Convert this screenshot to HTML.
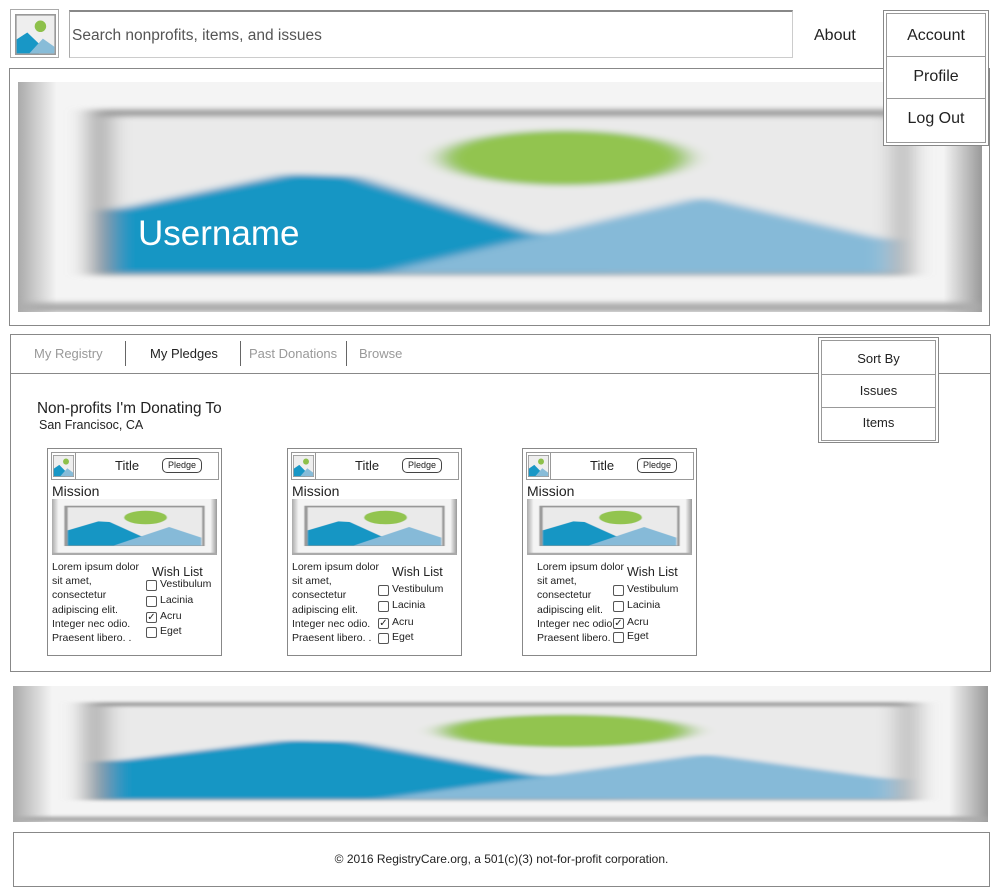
<!DOCTYPE html>
<html><head><meta charset="utf-8"><style>
body{margin:0;width:998px;height:894px;background:#fff;font-family:"Liberation Sans",sans-serif;position:relative;overflow:hidden;color:#222}
.a{position:absolute}
.box{position:absolute;border:1px solid #888;box-sizing:border-box}
.dd{position:absolute;border:1px solid #888;box-sizing:border-box;padding:2px;background:#fff;z-index:5}
.dd div{border:1px solid #999;box-sizing:border-box;text-align:center;background:#fff}
.t{position:absolute;white-space:nowrap}
.cb{position:absolute;width:11px;height:11px;border:1px solid #555;border-radius:2px;box-sizing:border-box;background:#fff;font-size:10px;line-height:9px;text-align:center}
</style></head><body>
<div class="box" style="left:10px;top:9px;width:49px;height:49px;border-color:#aaa;padding:4px"><div class="img" data-w="41" data-h="41" data-blur="0" data-icon="1"></div></div>
<div class="box" style="left:69px;top:10px;width:724px;height:48px;border-color:#ccc;border-top:2px solid #888;border-left:1px solid #aaa"><span class="t" style="left:2px;top:15px;font-size:15.5px;color:#555">Search nonprofits, items, and issues</span></div>
<span class="t" style="left:814px;top:27px;font-size:16px">About</span>
<div class="box" style="left:9px;top:68px;width:981px;height:258px"></div>
<div class="a img" data-w="964" data-h="230" data-blur="4" style="left:18px;top:82px"></div>
<span class="t" style="left:138px;top:214px;font-size:35px;color:#fff">Username</span>
<div class="dd" style="left:883px;top:10px;width:106px;height:136px">
<div style="height:44px;line-height:44px;font-size:16px">Account</div>
<div style="height:42px;line-height:40px;font-size:16px;border-top:none">Profile</div>
<div style="height:44px;line-height:40px;font-size:16px;border-top:none">Log Out</div>
</div>

<div class="box" style="left:10px;top:334px;width:981px;height:338px"></div>
<div class="a" style="left:11px;top:373px;width:979px;height:1px;background:#888"></div>
<span class="t" style="left:34px;top:346px;font-size:13px;color:#999">My Registry</span>
<div class="a" style="left:125px;top:341px;width:1px;height:25px;background:#666"></div>
<span class="t" style="left:150px;top:346px;font-size:13px;color:#222">My Pledges</span>
<div class="a" style="left:240px;top:341px;width:1px;height:25px;background:#666"></div>
<span class="t" style="left:249px;top:346px;font-size:13px;color:#999">Past Donations</span>
<div class="a" style="left:346px;top:341px;width:1px;height:25px;background:#666"></div>
<span class="t" style="left:359px;top:346px;font-size:13px;color:#999">Browse</span>
<div class="dd" style="left:818px;top:337px;width:121px;height:106px">
<div style="height:35px;line-height:35px;font-size:13px">Sort By</div>
<div style="height:33px;line-height:31px;font-size:13px;border-top:none">Issues</div>
<div style="height:33px;line-height:30px;font-size:13px;border-top:none">Items</div>
</div>
<span class="t" style="left:37px;top:400px;font-size:15.3px">Non-profits I'm Donating To</span>
<span class="t" style="left:39px;top:418px;font-size:12.5px">San Francisoc, CA</span>
<div id="cards"></div>

<div class="a img" data-w="975" data-h="136" data-blur="4" style="left:13px;top:686px"></div>
<div class="box" style="left:13px;top:832px;width:977px;height:55px;text-align:center;font-size:12px;line-height:53px">© 2016 RegistryCare.org, a 501(c)(3) not-for-profit corporation.</div>

<script>
const cardX=[47,287,522];
const wishDX=[104,104,104];
const cbY=[[580,596,612,627],[585,601,618,633],[585,601,618,632]];
const items=["Vestibulum","Lacinia","Acru","Eget"];
const checked=[false,false,true,false];
const cont=document.getElementById('cards');
cardX.forEach((x,i)=>{
 const c=document.createElement('div');
 c.className='box';
 
 
 c.style.cssText=`left:${x}px;top:448px;width:175px;height:208px`;
 cont.appendChild(c);
 let h=`<div class="box" style="left:3px;top:3px;width:168px;height:28px;border-color:#999"></div>
 <div class="a img" data-w="21" data-h="22" data-blur="0" data-icon="1" style="left:5px;top:6px"></div>
 <div class="a" style="left:27px;top:4px;width:1px;height:26px;background:#999"></div>
 <span class="t" style="left:67px;top:9px;font-size:13px">Title</span>
 <div class="box pl" style="left:114px;top:9px;width:40px;height:15px;border:1px solid #444;border-radius:5px;font-size:9px;text-align:center;line-height:13px">Pledge</div>
 <span class="t" style="left:4px;top:34px;font-size:14px">Mission</span>
 <div class="a img" data-w="165" data-h="56" data-blur="1.2" style="left:4px;top:50px"></div>
 <div class="a" style="left:${i==2?14:4}px;top:111px;font-size:10.5px;line-height:14.2px;width:95px">Lorem ipsum dolor sit amet, consectetur adipiscing elit. Integer nec odio. Praesent libero. .</div>
 <span class="t" style="left:${wishDX[i]}px;top:116px;font-size:12.5px">Wish List</span>`;
 c.innerHTML=h;
 const pl=c.querySelector('.pl');
 
 
 const bx=(i==0?98:90);
 items.forEach((it,k)=>{
  const b=document.createElement('div');
  b.className='cb';
  
  
  b.style.left=bx+'px';b.style.top=(cbY[i][k]-448-1)+'px';
  if(checked[k])b.textContent='✓';
  c.appendChild(b);
  const l=document.createElement('span');
  l.className='t';
  
  
  l.style.cssText=`left:${bx+14}px;top:${cbY[i][k]-448-3}px;font-size:10.5px`;
  l.textContent=it;
  c.appendChild(l);
 });
});
let uid=0;
document.querySelectorAll('.img').forEach(el=>{
 const w=+el.dataset.w,h=+el.dataset.h,b=+el.dataset.blur,icon=el.dataset.icon;
 const id='f'+(uid++);
 el.style.width=w+'px';el.style.height=h+'px';
 if(!el.classList.contains('a'))el.style.position='relative';
 if(icon){
  el.innerHTML=`<svg width="${w}" height="${h}" viewBox="0 0 100 100" preserveAspectRatio="none"><rect width="100" height="100" fill="#999"/><rect x="4" y="4" width="92" height="92" fill="#eee"/>
  <circle cx="62" cy="30" r="14" fill="#8dc04a"/>
  <path d="M4 62 L30 45 L58 72 L58 96 L4 96Z" fill="#1897c6"/>
  <path d="M35 96 L68 60 L96 80 L96 96Z" fill="#88bcd8"/></svg>`;
  return;
 }
 el.innerHTML=`<svg width="${w}" height="${h}" viewBox="0 0 1000 1000" preserveAspectRatio="none">
 <defs><filter id="${id}" x="-5%" y="-5%" width="110%" height="110%"><feGaussianBlur stdDeviation="${b*3}"/></filter>
 <linearGradient id="${id}g" x1="0" x2="1"><stop offset="0" stop-color="#aaa"/><stop offset="0.04" stop-color="#f4f4f4"/><stop offset="0.96" stop-color="#f4f4f4"/><stop offset="1" stop-color="#999"/></linearGradient></defs>
 <rect width="1000" height="1000" fill="url(#${id}g)"/>
 <g filter="url(#${id})">
 <rect x="0" y="960" width="1000" height="40" fill="#aaa"/>
 <rect x="75" y="120" width="850" height="720" fill="#999"/>
 <rect x="95" y="150" width="815" height="680" fill="#eaeaea"/>
 <ellipse cx="567" cy="330" rx="130" ry="120" fill="#92c450"/>
 <path d="M95 560 L280 400 L350 410 L620 770 L620 830 L95 830Z" fill="#1796c4"/>
 <path d="M375 830 L710 500 L905 690 L905 830Z" fill="#86bad8"/>
 </g></svg>`;
});
</script>
</body></html>
